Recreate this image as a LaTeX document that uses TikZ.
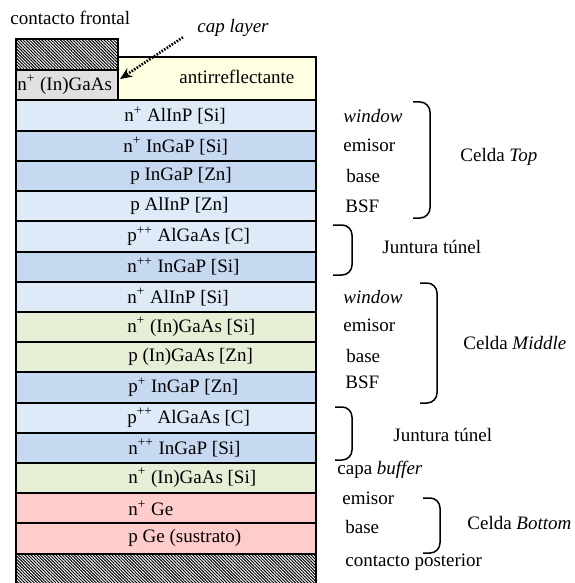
\documentclass[tikz,border=0pt]{standalone}
\usepackage{fontspec}
\setmainfont{Liberation Serif}
\usetikzlibrary{arrows.meta,patterns.meta}
\definecolor{arcream}{RGB}{255,255,225}
\definecolor{capgray}{RGB}{224,224,224}
\definecolor{lightblue}{RGB}{222,234,247}
\definecolor{midblue}{RGB}{198,217,241}
\definecolor{lightgreen}{RGB}{230,238,214}
\definecolor{lightpink}{RGB}{255,204,204}
\tikzset{
	layer/.style={draw=black, line width=1pt},
	hatch/.style={pattern={Lines[angle=-45,distance=1.1pt,line width=0.5pt]}, pattern color=black},
	txt/.style={inner sep=0pt, anchor=west, font=\fontsize{9.5}{11}\selectfont},
	brace/.style={line width=0.75pt, rounded corners=5pt},
	caparrow/.style={line width=1.3pt, dash pattern=on 0.8pt off 0.7pt, -{Stealth[length=6pt,width=5pt]}}
}
\def\bracket(#1:#2)(#3:#4){\draw[brace] (#1,#3) -- (#2,#3) -- (#2,#4) -- (#1,#4);}
\begin{document}
\begin{tikzpicture}[x=0.5pt, y=-0.5pt]
			%%%%% START %%%%%
			\useasboundingbox (0,0) rectangle (574,583);
			
			% front contact, cap layer and AR coating
			\draw[layer, hatch] (16,39) rectangle (118,70);
			\draw[layer, fill=capgray] (16,70) rectangle (118,100.5);
			\draw[layer, fill=arcream] (118,57) rectangle (316,100.5);
			\node[txt] (front) at (10,18) {contacto frontal};
			\node[txt] (cap) at (17,85) {n\textsuperscript{+} (In)GaAs};
			\node[txt] (ar) at (179,77) {antirreflectante};
			\node[txt] (caplbl) at (197,28) {\textit{cap layer}};
			\coordinate (captip) at (120,79);
			\draw[caparrow, shorten <=8.4pt] (caplbl.west) -- (captip);
			
			% top cell
			\draw[layer, fill=lightblue] (16,100.5) rectangle (316,130.7);
			\draw[layer, fill=midblue] (16,130.7) rectangle (316,160.9);
			\draw[layer, fill=midblue] (16,160.9) rectangle (316,191.1);
			\draw[layer, fill=lightblue] (16,191.1) rectangle (316,221.3);
			\node[txt] (l1) at (124,115.6) {n\textsuperscript{+} AlInP [Si]};
			\node[txt] (l2) at (123,145.8) {n\textsuperscript{+} InGaP [Si]};
			\node[txt] (l3) at (130,176) {p InGaP [Zn]};
			\node[txt] (l4) at (130,206.2) {p AlInP [Zn]};
			
			% tunnel junction
			\draw[layer, fill=lightblue] (16,221.3) rectangle (316,251.5);
			\draw[layer, fill=midblue] (16,251.5) rectangle (316,281.7);
			\node[txt] (l5) at (127,236.4) {p\textsuperscript{++} AlGaAs [C]};
			\node[txt] (l6) at (127,266.6) {n\textsuperscript{++} InGaP [Si]};
			
			% middle cell
			\draw[layer, fill=lightblue] (16,281.7) rectangle (316,311.9);
			\draw[layer, fill=lightgreen] (16,311.9) rectangle (316,342.1);
			\draw[layer, fill=lightgreen] (16,342.1) rectangle (316,372.3);
			\draw[layer, fill=midblue] (16,372.3) rectangle (316,402.5);
			\node[txt] (l7) at (127,296.8) {n\textsuperscript{+} AlInP [Si]};
			\node[txt] (l8) at (127,327) {n\textsuperscript{+} (In)GaAs [Si]};
			\node[txt] (l9) at (128,357.2) {p (In)GaAs [Zn]};
			\node[txt] (l10) at (128,387.4) {p\textsuperscript{+} InGaP [Zn]};
			
			% tunnel junction
			\draw[layer, fill=lightblue] (16,402.5) rectangle (316,432.7);
			\draw[layer, fill=midblue] (16,432.7) rectangle (316,462.9);
			\node[txt] (l11) at (127,417.6) {p\textsuperscript{++} AlGaAs [C]};
			\node[txt] (l12) at (128,447.8) {n\textsuperscript{++} InGaP [Si]};
			
			% buffer, bottom cell and back contact
			\draw[layer, fill=lightgreen] (16,462.9) rectangle (316,493.1);
			\draw[layer, fill=lightpink] (16,493.1) rectangle (316,523.3);
			\draw[layer, fill=lightpink] (16,523.3) rectangle (316,553.5);
			\draw[layer, hatch] (16,553.5) rectangle (316,595);
			\node[txt] (l13) at (128,478) {n\textsuperscript{+} (In)GaAs [Si]};
			\node[txt] (l14) at (128,508.2) {n\textsuperscript{+} Ge};
			\node[txt] (l15) at (128,538.4) {p Ge (sustrato)};
			
			% labels on the right
			\node[txt] (win1) at (343,116) {\textit{window}};
			\node[txt] (em1) at (343,145) {emisor};
			\node[txt] (base1) at (346,176) {base};
			\node[txt] (bsf1) at (345,206) {BSF};
			\bracket(413:430)(102:218)
			\node[txt] (top) at (460,157) {Celda \textit{Top}};
			
			\bracket(333:352)(225:275)
			\node[txt] (tj1) at (382,247) {Juntura túnel};
			
			\node[txt] (win2) at (343,297) {\textit{window}};
			\node[txt] (em2) at (343,325) {emisor};
			\node[txt] (base2) at (346,356) {base};
			\node[txt] (bsf2) at (345,382) {BSF};
			\bracket(420:437)(283:403)
			\node[txt] (middle) at (463,343) {Celda \textit{Middle}};
			
			\bracket(335:352)(407:460)
			\node[txt] (tj2) at (393,435) {Juntura túnel};
			
			\node[txt] (buf) at (337,470) {capa \textit{buffer}};
			\node[txt] (em3) at (342,498) {emisor};
			\node[txt] (base3) at (345,527) {base};
			\bracket(423:440)(498:553)
			\node[txt] (bottom) at (467,523) {Celda \textit{Bottom}};
			\node[txt] (back) at (345,562) {contacto posterior};
			
			%%%%% END %%%%%
\end{tikzpicture}
\end{document}
